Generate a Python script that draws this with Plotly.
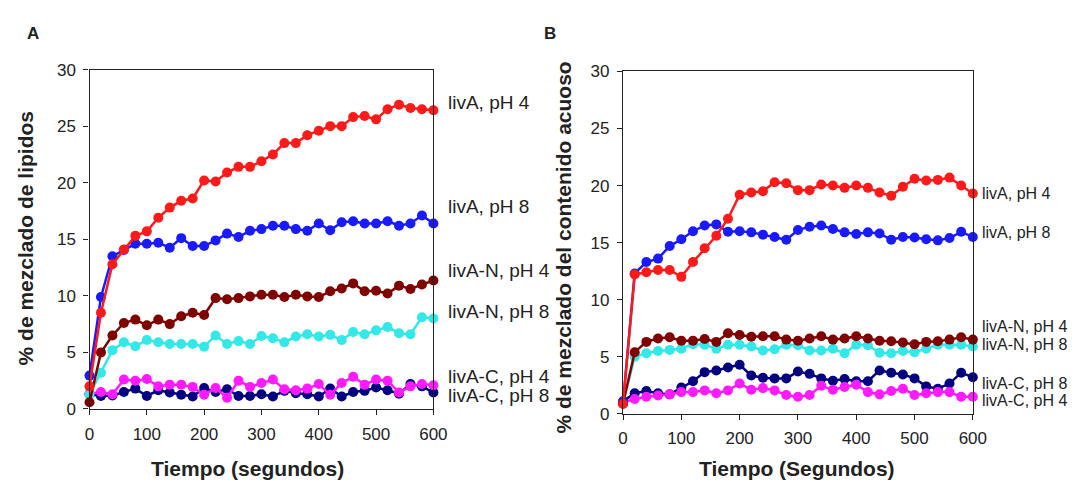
import plotly.graph_objects as go

W, H = 1090, 493
time_s = list(range(0, 601, 20))

# Panel A: % de mezclado de lipidos
A_livA_pH4 = [2.0, 8.5, 12.8, 14.1, 15.3, 15.7, 16.9, 17.8, 18.4, 18.6, 20.2, 20.1, 20.9, 21.4, 21.4, 21.9,
              22.5, 23.5, 23.5, 24.2, 24.6, 25.0, 25.0, 25.8, 25.9, 25.6, 26.5, 26.9, 26.6, 26.5, 26.4]
A_livA_pH8 = [2.95, 9.9, 13.5, 14.05, 14.6, 14.6, 14.7, 14.25, 15.1, 14.4, 14.4, 14.9, 15.5, 15.2, 15.75, 15.9,
              16.2, 16.2, 15.9, 15.75, 16.4, 15.8, 16.5, 16.6, 16.4, 16.4, 16.6, 16.2, 16.4, 17.1, 16.4]
A_livAN_pH4 = [0.6, 5.0, 6.5, 7.6, 7.9, 7.4, 7.9, 7.5, 8.2, 8.5, 8.3, 9.8, 9.7, 9.8, 9.95, 10.1,
               10.1, 9.9, 10.1, 9.95, 9.9, 10.4, 10.65, 11.1, 10.4, 10.45, 10.2, 10.9, 10.6, 11.0, 11.35]
A_livAN_pH8 = [1.3, 3.2, 5.2, 5.9, 5.55, 6.1, 5.9, 5.75, 5.75, 5.75, 5.5, 6.5, 5.75, 6.0, 5.75, 6.45,
               6.25, 5.9, 6.4, 6.6, 6.4, 6.55, 6.1, 6.8, 6.6, 6.95, 7.25, 6.7, 6.6, 8.1, 8.0]
A_livAC_pH4 = [1.35, 1.5, 1.3, 2.6, 2.5, 2.65, 2.0, 2.15, 2.15, 1.95, 1.25, 1.85, 1.0, 2.5, 1.95, 2.3,
               2.6, 1.75, 1.65, 1.8, 2.2, 1.25, 2.3, 2.85, 2.15, 2.6, 2.5, 1.45, 2.0, 2.2, 2.1]
A_livAC_pH8 = [1.3, 1.15, 1.2, 1.5, 1.8, 1.15, 1.65, 1.45, 1.25, 1.1, 1.85, 1.5, 1.75, 1.15, 1.15, 1.3,
               1.1, 1.6, 1.4, 1.3, 1.1, 1.8, 1.1, 1.5, 1.6, 1.9, 1.65, 1.35, 2.2, 2.0, 1.45]

# Panel B: % de mezclado del contenido acuoso
B_livA_pH4 = [0.85, 12.2, 12.4, 12.6, 12.6, 12.0, 13.3, 14.5, 15.6, 17.1, 19.2, 19.4, 19.5, 20.3, 20.2, 19.6,
              19.6, 20.1, 20.0, 19.8, 20.0, 19.8, 19.4, 19.1, 19.9, 20.6, 20.45, 20.5, 20.7, 20.0, 19.3]
B_livA_pH8 = [1.0, 12.3, 13.3, 13.6, 14.7, 15.3, 16.0, 16.5, 16.6, 15.95, 16.0, 15.9, 15.7, 15.5, 15.25, 16.1,
              16.4, 16.5, 16.2, 15.9, 15.75, 15.9, 15.8, 15.25, 15.5, 15.45, 15.3, 15.2, 15.4, 15.95, 15.5]
B_livAN_pH4 = [0.9, 5.4, 6.3, 6.6, 6.7, 6.4, 6.4, 6.55, 6.3, 7.05, 6.9, 6.75, 6.8, 6.8, 6.5, 6.4,
               6.6, 6.8, 6.5, 6.6, 6.8, 6.6, 6.4, 6.35, 6.25, 6.1, 6.3, 6.35, 6.5, 6.7, 6.5]
B_livAN_pH8 = [0.9, 5.0, 5.3, 5.5, 5.6, 5.7, 6.1, 6.05, 5.7, 6.05, 6.05, 5.9, 5.55, 5.65, 6.05, 6.0,
               5.55, 5.55, 5.7, 5.3, 6.05, 6.0, 5.35, 5.3, 5.5, 5.4, 5.7, 6.05, 6.05, 6.05, 5.9]
B_livAC_pH8 = [1.1, 1.8, 2.0, 1.8, 1.7, 2.3, 2.85, 3.65, 3.8, 4.05, 4.3, 3.35, 3.15, 3.1, 3.1, 3.7,
               3.5, 3.1, 2.9, 3.05, 2.85, 2.85, 3.8, 3.6, 3.45, 3.1, 2.4, 2.2, 2.65, 3.6, 3.2]
B_livAC_pH4 = [1.0, 1.3, 1.5, 1.6, 1.7, 1.9, 1.9, 2.05, 1.8, 2.05, 2.65, 2.1, 2.25, 2.05, 1.65, 1.5,
               1.65, 2.45, 2.1, 2.35, 2.55, 1.9, 1.7, 2.0, 2.2, 1.65, 1.8, 1.9, 1.9, 1.5, 1.5]

x_ticks = [0, 100, 200, 300, 400, 500, 600]
y_ticks = [0, 5, 10, 15, 20, 25, 30]

C_RED, C_BLUE, C_DRED, C_CYAN, C_MAG, C_NAVY = "#ff1a1a", "#1a1aff", "#800000", "#33e8e8", "#ff1aff", "#000080"

series_A = [(A_livAC_pH8, C_NAVY), (A_livAC_pH4, C_MAG), (A_livAN_pH8, C_CYAN),
            (A_livAN_pH4, C_DRED), (A_livA_pH8, C_BLUE), (A_livA_pH4, C_RED)]
series_B = [(B_livAC_pH8, C_NAVY), (B_livAC_pH4, C_MAG), (B_livAN_pH8, C_CYAN),
            (B_livAN_pH4, C_DRED), (B_livA_pH8, C_BLUE), (B_livA_pH4, C_RED)]

FONT = "Liberation Sans, Arial, sans-serif"
fig = go.Figure()
for vals, col in series_A:
    fig.add_trace(go.Scatter(x=time_s, y=vals, mode="lines+markers", xaxis="x", yaxis="y",
                             line=dict(color=col, width=2.5), marker=dict(color=col, size=10),
                             cliponaxis=False, showlegend=False))
for vals, col in series_B:
    fig.add_trace(go.Scatter(x=time_s, y=vals, mode="lines+markers", xaxis="x2", yaxis="y2",
                             line=dict(color=col, width=2.5), marker=dict(color=col, size=10),
                             cliponaxis=False, showlegend=False))

def px(x):
    return x / W

def py(y):
    return 1 - y / H

axis_common = dict(showline=True, linecolor="#222", linewidth=1.3, mirror=True, showgrid=False,
                   zeroline=False, ticks="outside", ticklen=5, tickcolor="#222",
                   tickfont=dict(family=FONT, size=17, color="#222"))

fig.update_layout(
    width=W, height=H, margin=dict(l=0, r=0, t=0, b=0),
    paper_bgcolor="white", plot_bgcolor="white",
    xaxis=dict(domain=[px(86), px(436)], range=[0, 600], tickvals=x_ticks, anchor="y",
               ticklabelstandoff=4, **axis_common),
    yaxis=dict(domain=[py(416), py(63)], range=[0, 30], tickvals=y_ticks, anchor="x",
               ticklabelstandoff=4, **axis_common),
    xaxis2=dict(domain=[px(629), px(985)], range=[0, 600], tickvals=x_ticks, anchor="y2",
                ticklabelstandoff=4, **axis_common),
    yaxis2=dict(domain=[py(421), py(65)], range=[0, 30], tickvals=y_ticks, anchor="x2",
                ticklabelstandoff=4, **axis_common),
)

ann = []
def label(text, x, y, size, **kw):
    ann.append(dict(text=text, x=px(x), y=py(y), xref="paper", yref="paper", showarrow=False,
                    font=dict(family=FONT, size=size, color="#222"), **kw))

# series labels panel A
for t, yy in [("livA, pH 4", 97), ("livA, pH 8", 205), ("livA-N, pH 4", 272),
              ("livA-N, pH 8", 315), ("livA-C, pH 4", 382), ("livA-C, pH 8", 402)]:
    label(t, 449, yy, 19, xanchor="left", yanchor="middle")
# series labels panel B
for t, yy in [("livA, pH 4", 192), ("livA, pH 8", 232), ("livA-N, pH 4", 330),
              ("livA-N, pH 8", 349), ("livA-C, pH 8", 389), ("livA-C, pH 4", 407)]:
    label(t, 992, yy, 16, xanchor="left", yanchor="middle")

# axis titles
label("<b>Tiempo (segundos)</b>", 247, 478, 21, xanchor="center", yanchor="middle")
label("<b>Tiempo (Segundos)</b>", 806, 478, 21, xanchor="center", yanchor="middle")
label("<b>% de mezclado de lipidos</b>", 21, 239, 21, xanchor="center", yanchor="middle", textangle=-90)
label("<b>% de mezclado del contenido acuoso</b>", 568, 248, 21, xanchor="center", yanchor="middle", textangle=-90)
# panel letters
label("<b>A</b>", 28, 25, 17, xanchor="center", yanchor="middle")
label("<b>B</b>", 555, 25, 17, xanchor="center", yanchor="middle")

fig.update_layout(annotations=ann)
fig.write_html("out.html")
